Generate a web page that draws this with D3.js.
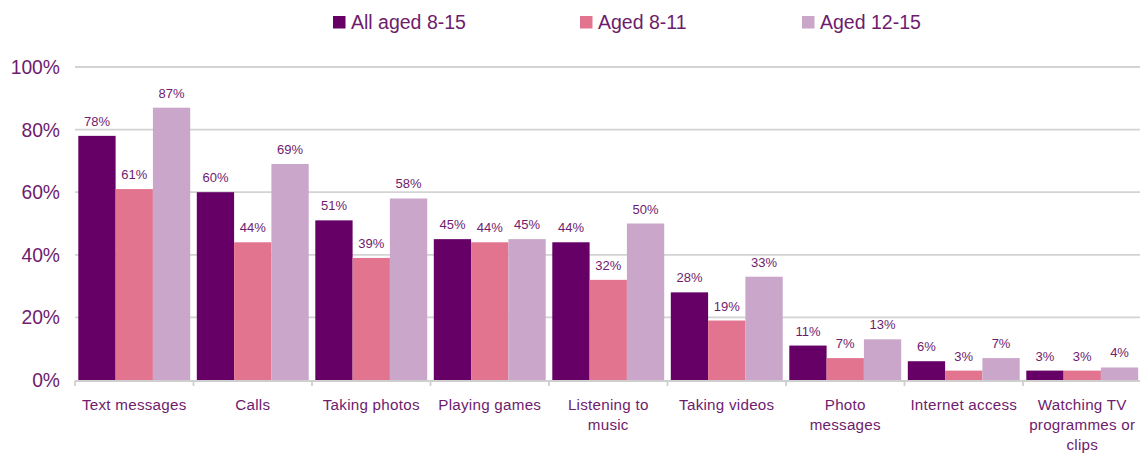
<!DOCTYPE html>
<html><head><meta charset="utf-8">
<script src="https://cdn.jsdelivr.net/npm/d3@7"></script>
<style>body{margin:0;background:#fff}svg{display:block;font-family:"Liberation Sans",Arial,sans-serif}</style>
</head><body><svg id="c" width="1140" height="453"></svg>
<script>
const categories = [["Text messages"],["Calls"],["Taking photos"],["Playing games"],["Listening to","music"],["Taking videos"],["Photo","messages"],["Internet access"],["Watching TV","programmes or","clips"]];
const seriesNames = ["All aged 8-15","Aged 8-11","Aged 12-15"];
const all815 = [78,60,51,45,44,28,11,6,3];
const aged811 = [61,44,39,44,32,19,7,3,3];
const aged1215 = [87,69,58,45,50,33,13,7,4];
const yTicks = [0,20,40,60,80,100];
const colors = ["#660066","#E27490","#C9A6CA"];
const textColor = "#6E1C6E";

(function(){
const svg = d3.select("#c");
const series = [all815, aged811, aged1215];
const pL = 75, pR = 1141.5, pT = 67, pB = 380;
const x = d3.scaleBand().domain(d3.range(categories.length)).range([pL, pR]).paddingInner(0).paddingOuter(0);
const xs = d3.scaleBand().domain(d3.range(3)).range([3.3, x.bandwidth()-3.3]);
const y = d3.scaleLinear().domain([0,100]).range([pB, pT]);

svg.append("g").selectAll("line").data(yTicks.filter(d=>d>0)).join("line")
  .attr("x1", pL).attr("x2", pR).attr("y1", d=>y(d)).attr("y2", d=>y(d))
  .attr("stroke", "#d3d3d3").attr("stroke-width", 1.8);

svg.append("g").selectAll("text").data(yTicks).join("text")
  .attr("x", 60).attr("y", d=>y(d)+7).attr("text-anchor","end")
  .attr("font-size", 19.3).attr("fill", textColor).text(d=>d+"%");

const g = svg.append("g");
series.forEach((vals, si) => {
  g.append("g").selectAll("rect").data(vals).join("rect")
    .attr("x", (d,i)=>x(i)+xs(si)).attr("width", xs.bandwidth())
    .attr("y", d=>y(d)).attr("height", d=>y(0)-y(d)).attr("fill", colors[si]);
  g.append("g").selectAll("text").data(vals).join("text")
    .attr("x", (d,i)=>x(i)+xs(si)+xs.bandwidth()/2).attr("y", d=>y(d)-10)
    .attr("text-anchor","middle").attr("font-size", 13).attr("fill", textColor).text(d=>d+"%");
});

svg.append("line").attr("x1", pL).attr("x2", pR).attr("y1", pB+1).attr("y2", pB+1)
  .attr("stroke", "#cfcfcf").attr("stroke-width", 1.8);
svg.append("g").selectAll("line").data(d3.range(categories.length+1)).join("line")
  .attr("x1", i=>pL+i*x.step()).attr("x2", i=>pL+i*x.step())
  .attr("y1", pB+1).attr("y2", pB+6).attr("stroke", "#cfcfcf").attr("stroke-width", 1.8);

const xl = svg.append("g").selectAll("text").data(categories).join("text")
  .attr("x", (d,i)=>x(i)+x.bandwidth()/2).attr("y", 410)
  .attr("text-anchor","middle").attr("font-size", 15.2).attr("letter-spacing", 0.25).attr("fill", textColor);
xl.each(function(lines){
  const t = d3.select(this);
  lines.forEach((l,k)=>t.append("tspan").attr("x", t.attr("x")).attr("dy", k?19.8:0).text(l));
});

const legX = [333, 580, 802];
const lg = svg.append("g");
seriesNames.forEach((n,i)=>{
  lg.append("rect").attr("x", legX[i]).attr("y", 16).attr("width", 12.5).attr("height", 12.5).attr("fill", colors[i]);
  lg.append("text").attr("x", legX[i]+18).attr("y", 29).attr("font-size", 19.5).attr("fill", textColor).text(n);
});
})();
</script></body></html>
